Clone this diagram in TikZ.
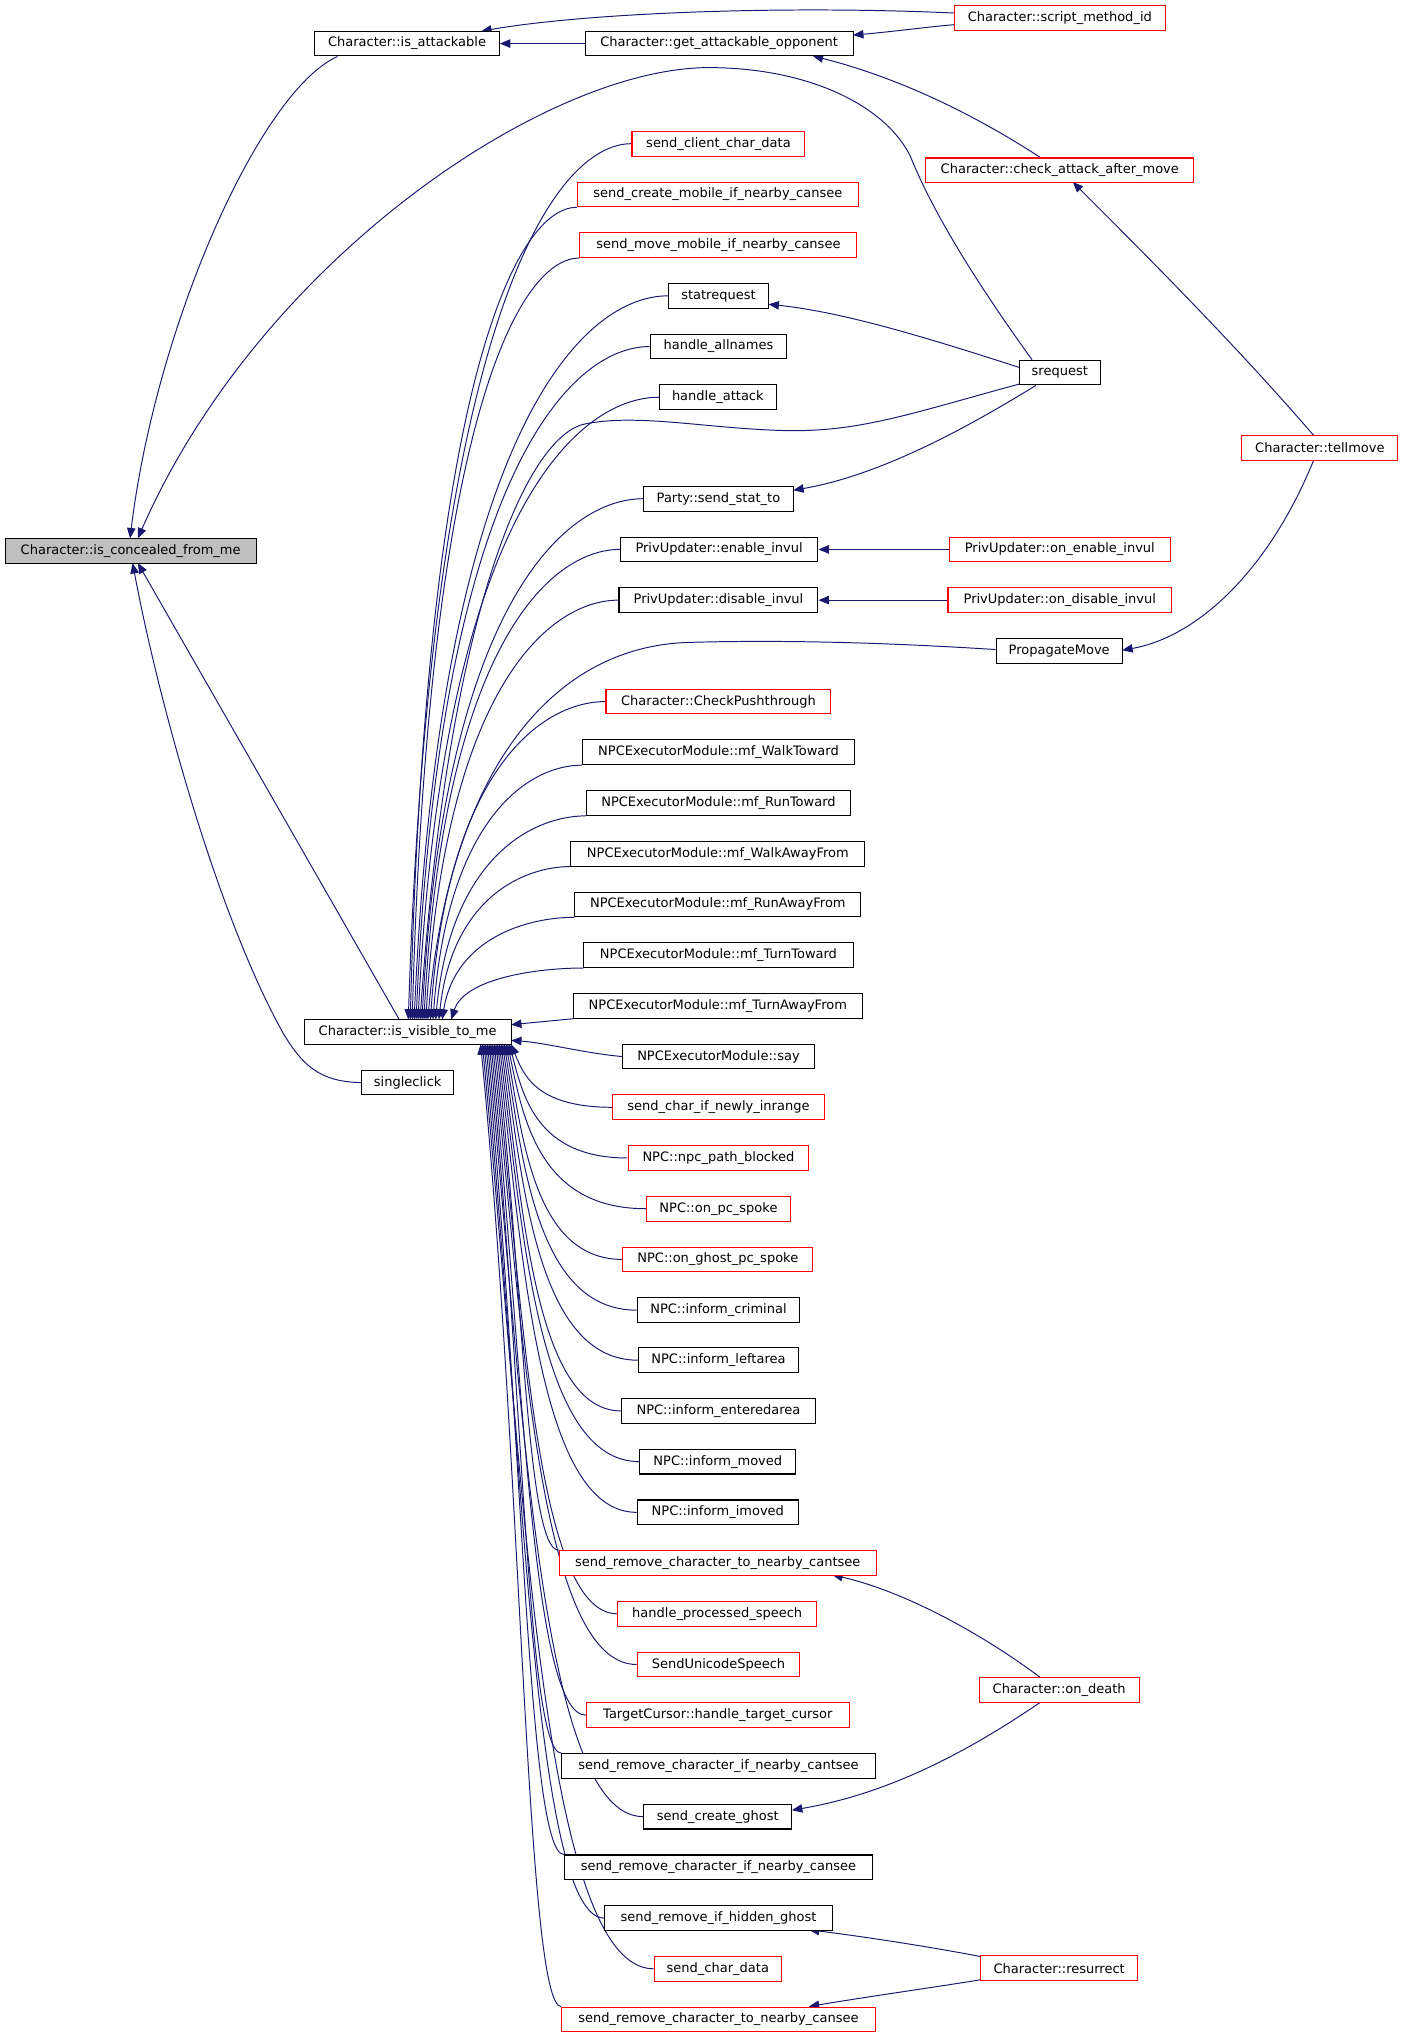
\documentclass[tikz,border=0pt]{standalone}
\usepackage{fontspec}
\setmainfont{DejaVu Sans}
\usetikzlibrary{arrows.meta,calc}
\definecolor{edgeblue}{HTML}{191970}
\definecolor{greyfill}{HTML}{BFBFBF}
\pgfdeclarelayer{bg}
\pgfdeclarelayer{edges}
\pgfsetlayers{bg,edges,main}
\tikzset{
  box/.style={draw=black, line width=0.8pt, fill=white, minimum height=19pt, inner sep=0pt,
              font=\fontsize{10}{12}\selectfont, text=black},
  rbox/.style={box, draw=red},
  gbox/.style={box, fill=greyfill},
  ed/.style={draw=edgeblue, line width=0.75pt, -{Triangle[length=8pt,width=6.5pt]}},
}
\begin{document}
\begin{tikzpicture}[x=1pt,y=-1pt]
\begin{pgfonlayer}{bg}
\useasboundingbox[fill=white] (0,0) rectangle (1080,1568);
\end{pgfonlayer}

% left column
\node[gbox, minimum width=193] (conc) at (100.5,423.5) {Character::is\_concealed\_from\_me};
\node[box, minimum width=142] (att) at (313,33.5) {Character::is\_attackable};
\node[box, minimum width=159] (vis) at (313.5,793.5) {Character::is\_visible\_to\_me};
\node[box, minimum width=71] (single) at (313.5,832.5) {singleclick};

% middle column
\node[box, minimum width=206] (gao) at (553,33.5) {Character::get\_attackable\_opponent};
\node[rbox, minimum width=133] (scd) at (552.5,110.5) {send\_client\_char\_data};
\node[rbox, minimum width=216] (scm) at (552,149.5) {send\_create\_mobile\_if\_nearby\_cansee};
\node[rbox, minimum width=213] (smm) at (552.5,188.5) {send\_move\_mobile\_if\_nearby\_cansee};
\node[box, minimum width=77] (statr) at (552.5,227.5) {statrequest};
\node[box, minimum width=105] (hall) at (552.5,266.5) {handle\_allnames};
\node[box, minimum width=90] (hatt) at (552,305.5) {handle\_attack};
\node[box, minimum width=115] (pss) at (552.5,383.5) {Party::send\_stat\_to};
\node[box, minimum width=152] (pen) at (553,422.5) {PrivUpdater::enable\_invul};
\node[box, minimum width=153] (pdis) at (552.5,461.5) {PrivUpdater::disable\_invul};
\node[rbox, minimum width=173] (cpt) at (552.5,539.5) {Character::CheckPushthrough};
\node[box, minimum width=209] (mwt) at (552.5,578.5) {NPCExecutorModule::mf\_WalkToward};
\node[box, minimum width=203] (mrt) at (552.5,617.5) {NPCExecutorModule::mf\_RunToward};
\node[box, minimum width=226] (mwa) at (552,656.5) {NPCExecutorModule::mf\_WalkAwayFrom};
\node[box, minimum width=220] (mra) at (552,695.5) {NPCExecutorModule::mf\_RunAwayFrom};
\node[box, minimum width=207] (mtt) at (552.5,734.5) {NPCExecutorModule::mf\_TurnToward};
\node[box, minimum width=222] (mta) at (552,773.5) {NPCExecutorModule::mf\_TurnAwayFrom};
\node[box, minimum width=147] (say) at (552.5,812.5) {NPCExecutorModule::say};
\node[rbox, minimum width=163] (scnr) at (552.5,851.5) {send\_char\_if\_newly\_inrange};
\node[rbox, minimum width=139] (npb) at (552.5,890.5) {NPC::npc\_path\_blocked};
\node[rbox, minimum width=111] (ops) at (552.5,929.5) {NPC::on\_pc\_spoke};
\node[rbox, minimum width=146] (ogs) at (552,968.5) {NPC::on\_ghost\_pc\_spoke};
\node[box, minimum width=125] (icr) at (552.5,1007.5) {NPC::inform\_criminal};
\node[box, minimum width=123] (ila) at (552.5,1046) {NPC::inform\_leftarea};
\node[box, minimum width=149] (iea) at (552.5,1085) {NPC::inform\_enteredarea};
\node[box, minimum width=120] (imv) at (552,1124) {NPC::inform\_moved};
\node[box, minimum width=124] (iim) at (552,1163) {NPC::inform\_imoved};
\node[rbox, minimum width=244] (srtc) at (552,1202) {send\_remove\_character\_to\_nearby\_cantsee};
\node[rbox, minimum width=153] (hps) at (551.5,1241) {handle\_processed\_speech};
\node[rbox, minimum width=125] (sus) at (552.5,1280) {SendUnicodeSpeech};
\node[rbox, minimum width=202] (tc) at (552,1319) {TargetCursor::handle\_target\_cursor};
\node[box, minimum width=241] (sric) at (552.5,1358) {send\_remove\_character\_if\_nearby\_cantsee};
\node[box, minimum width=114] (scg) at (552,1397) {send\_create\_ghost};
\node[box, minimum width=237] (sri) at (552.5,1436) {send\_remove\_character\_if\_nearby\_cansee};
\node[box, minimum width=175] (srh) at (552.5,1475) {send\_remove\_if\_hidden\_ghost};
\node[rbox, minimum width=98] (scdata) at (552,1514) {send\_char\_data};
\node[rbox, minimum width=241] (srtn) at (552.5,1553) {send\_remove\_character\_to\_nearby\_cansee};

% right column
\node[rbox, minimum width=162] (smid) at (815,14) {Character::script\_method\_id};
\node[rbox, minimum width=206] (caam) at (815,131) {Character::check\_attack\_after\_move};
\node[box, minimum width=62] (sreq) at (815,286.5) {srequest};
\node[rbox, minimum width=170] (oen) at (815,422.5) {PrivUpdater::on\_enable\_invul};
\node[rbox, minimum width=172] (odis) at (815,461.5) {PrivUpdater::on\_disable\_invul};
\node[box, minimum width=97] (pm) at (814.5,500.5) {PropagateMove};
\node[rbox, minimum width=123] (od) at (814.5,1299.5) {Character::on\_death};
\node[rbox, minimum width=121] (res) at (814.5,1513.5) {Character::resurrect};
\node[rbox, minimum width=120] (tell) at (1015,344.5) {Character::tellmove};

\begin{pgfonlayer}{edges}
% ---- edges into is_concealed_from_me
\draw[ed] ($(att.south west)+(18,0)$) .. controls (200,70) and (120,250) .. (100,414);
\draw[ed] ($(sreq.north west)+(10,0)$) .. controls (760,230) and (720,170) .. (700,120)
   .. controls (680,80) and (620,52) .. (545,52)
   .. controls (420,52) and (200,200) .. (106,414);
\draw[ed] (307,784) -- (106,433);
\draw[ed] (single.west) .. controls (245,832) and (232,818) .. (218,795)
   .. controls (165,700) and (120,530) .. (102,433);

% ---- edges into is_attackable / get_attackable_opponent
\draw[ed] (gao.west) -- (att.east);
\draw[ed] ($(smid.west)+(0,-4)$) .. controls (600,4) and (450,10) .. (370,24);
\draw[ed] ($(smid.west)+(0,5)$) .. controls (710,21) and (690,24) .. (656,27);
\draw[ed] ($(caam.north)+(-15,0)$) .. controls (760,95) and (700,62) .. (625,43);
\draw[ed] ($(tell.north)+(-5,0)$) .. controls (950,265) and (880,195) .. (825,140);

% ---- srequest callees
\draw[ed] ($(sreq.west)+(0,-4)$) .. controls (720,262) and (650,240) .. (591,234);
\draw[ed] ($(sreq.south west)+(13,0)$) .. controls (750,325) and (680,365) .. (610,377);
\draw[ed] ($(sreq.south west)+(0,-1)$) .. controls (700,318) and (660,333) .. (600,331)
   .. controls (540,329) and (490,318) .. (450,326)
   .. controls (405,335) and (345,470) .. (323,784);

% ---- PrivUpdater
\draw[ed] (oen.west) -- (pen.east);
\draw[ed] (odis.west) -- (pdis.east);

% ---- PropagateMove
\draw[ed] ($(tell.south)+(-5,0)$) .. controls (975,440) and (920,490) .. (863,500);
\draw[ed] ($(pm.west)+(0,-1)$) .. controls (680,494) and (600,492) .. (530,494)
   .. controls (420,497) and (345,600) .. (329,784);

% ---- upper callers of is_visible_to_me
\foreach \nd/\anc/\tx in {scd/west/314, scm/south west/315.5, smm/south west/317,
   statr/west/318.5, hall/west/320, hatt/west/321.5, pss/west/324.5, pen/west/326,
   pdis/west/327.5, cpt/west/331, mwt/south west/333, mrt/south west/335,
   mwa/south west/337.5, mra/south west/340, mtt/south west/347}
{
  \draw[ed] let \p1=(\nd.\anc), \p2=(\tx,784) in
    (\p1) .. controls (\x1-0.35*\x1+0.35*\x2, \y1) and (\x2+0.1*\x1-0.1*\x2, \y1+0.2*\y2-0.2*\y1) .. (\p2);
}
\draw[ed] (mta.south west) -- (393,788);
\draw[ed] (say.west) .. controls (450,810) and (420,802) .. (393,800);

% ---- lower callers of is_visible_to_me
\foreach \nd/\anc/\tx in {scnr/west/393, npb/west/391.7, ops/west/390.4, ogs/west/389.1,
   icr/west/387.8, ila/west/386.5, iea/west/385.2, imv/west/383.9, iim/west/382.6,
   srtc/north west/381.3, hps/west/380, sus/west/378.7, tc/west/377.4,
   sric/north west/376.1, scg/west/374.8, sri/north west/373.5, srh/west/372.2,
   scdata/west/370.9, srtn/north west/369.6}
{
  \draw[ed] let \p1=(\nd.\anc), \p2=(\tx,803) in
    (\p1) .. controls (0.15*\x1+340pt, \y1) and (402pt, \y2+0.45*\y1-0.45*\y2) .. (\p2);
}

% ---- on_death / resurrect
\draw[ed] ($(od.north)+(-15,0)$) .. controls (760,1260) and (700,1225) .. (640,1211);
\draw[ed] ($(od.south)+(-15,0)$) .. controls (740,1350) and (680,1380) .. (609,1392);
\draw[ed] ($(res.west)+(0,-9)$) .. controls (720,1498) and (670,1490) .. (622,1484);
\draw[ed] ($(res.west)+(0,9)$) .. controls (720,1528) and (670,1535) .. (622,1543);
\end{pgfonlayer}
\end{tikzpicture}
\end{document}
